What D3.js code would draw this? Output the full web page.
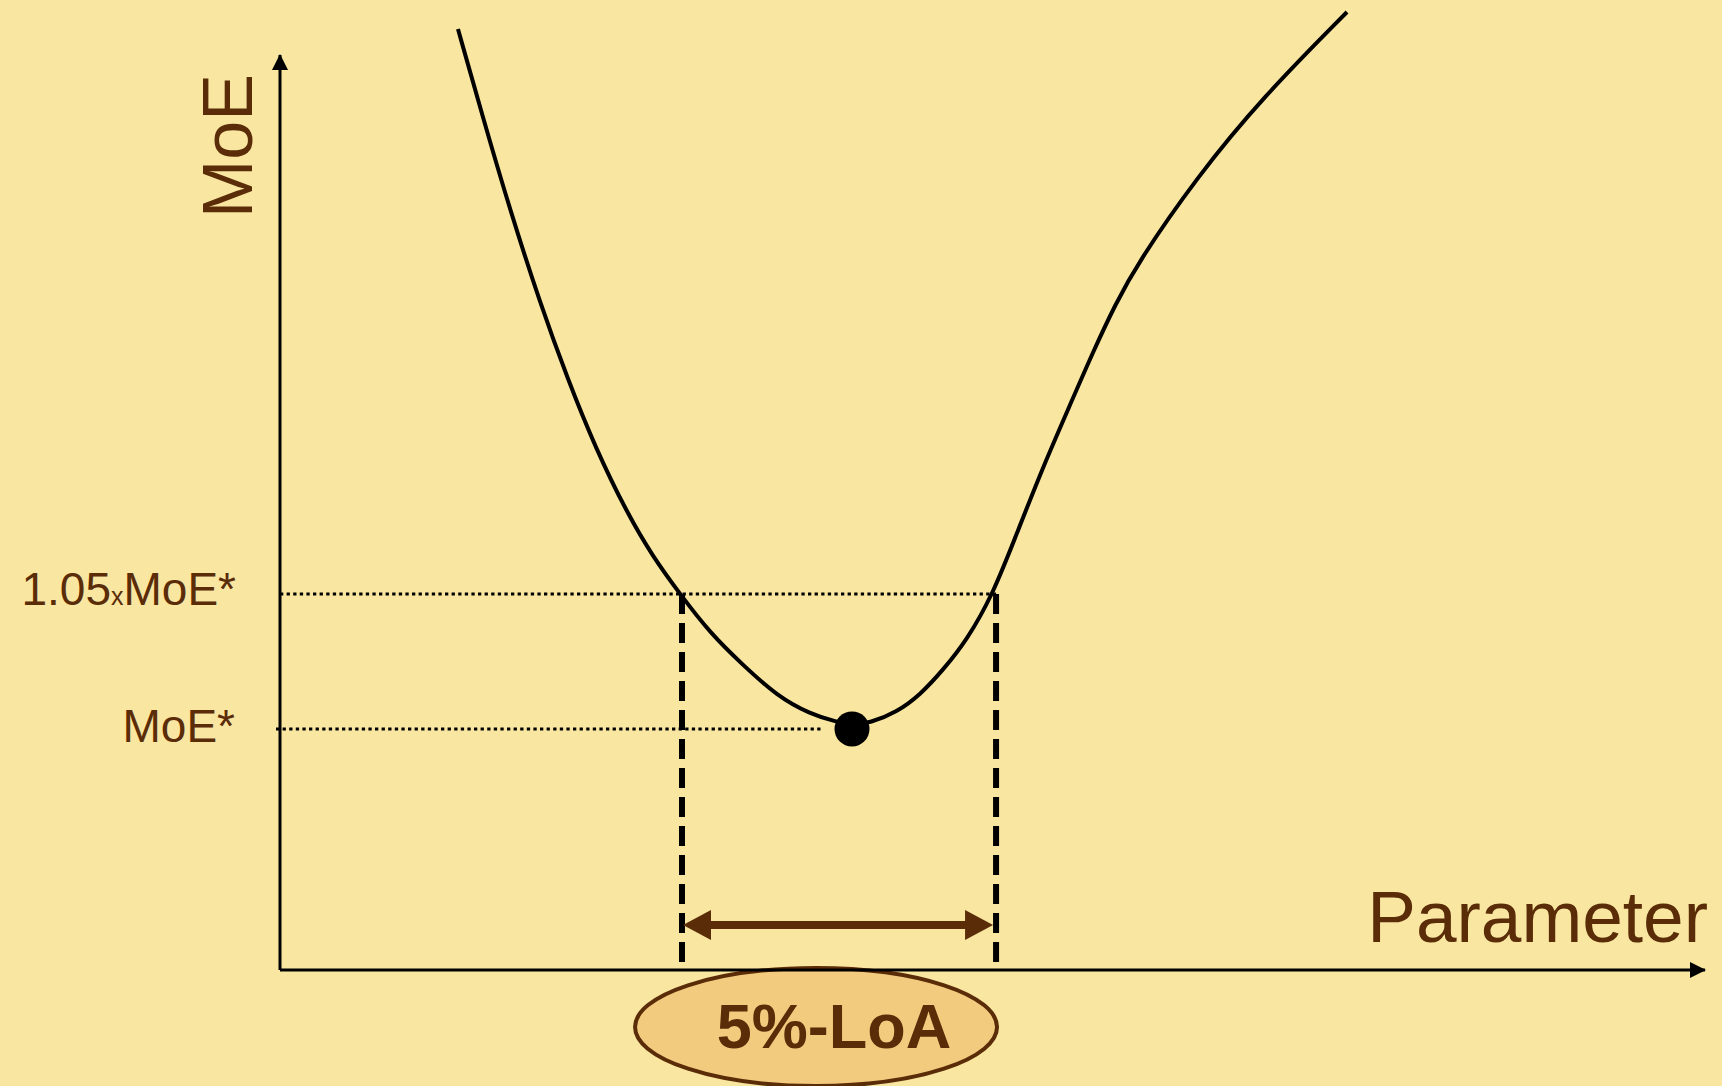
<!DOCTYPE html>
<meta charset="utf-8">
<script src="https://d3js.org/d3.v7.min.js"></script>
<style>
  body { margin: 0; background: #F9E6A0; }
  text { font-family: "Liberation Sans", Arial, sans-serif; fill: #5A2C08; }
</style>
<div id="loa"></div>
<script>
    // MoE curve (parameter units 0-10, MoE units 0-10)
    const curveX = [1.249, 1.425, 1.614, 1.825, 2.021, 2.211, 2.435, 2.618, 2.807, 3.018, 3.249, 3.488, 3.719, 3.909, 4.014, 4.140, 4.330, 4.491, 4.653, 4.821, 5.004, 5.172, 5.354, 5.544, 5.705, 5.860, 6.014, 6.435, 6.898, 7.488];
    const curveY = [10.284, 9.311, 8.306, 7.290, 6.448, 5.716, 4.995, 4.514, 4.109, 3.683, 3.333, 2.995, 2.798, 2.710, 2.678, 2.699, 2.820, 3.005, 3.279, 3.607, 4.109, 4.776, 5.497, 6.175, 6.754, 7.268, 7.716, 8.667, 9.541, 10.470];

    const optimum = {x: 4.014, y: 2.634};
    const levelY = 4.11;          // 1.05 x MoE*
    const loaBounds = [2.821, 5.025];

    const width = 1722, height = 1086;
    const margin = {left: 280, right: 17, top: 55, bottom: 116};

    const x = d3.scaleLinear().domain([0, 10]).range([margin.left, width - margin.right]);
    const y = d3.scaleLinear().domain([0, 10]).range([height - margin.bottom, margin.top]);

    const svg = d3.select("#loa").append("svg")
        .attr("width", width)
        .attr("height", height);

    svg.append("rect")
        .attr("width", width).attr("height", height)
        .style("fill", "#F9E6A0");

    const defs = svg.append("defs");
    defs.append("marker")
        .attr("id", "axhead")
        .attr("viewBox", "0 0 16 16")
        .attr("refX", 15).attr("refY", 8)
        .attr("markerWidth", 16).attr("markerHeight", 16)
        .attr("markerUnits", "userSpaceOnUse")
        .attr("orient", "auto")
        .append("path").attr("d", "M0,0L16,8L0,16Z").style("fill", "black");

    const brown = "#5A2C08";

    // label ellipse under the axis
    const loaMid = (x(loaBounds[0]) + x(loaBounds[1])) / 2;
    svg.append("ellipse")
        .attr("cx", loaMid - 23)
        .attr("cy", 1027)
        .attr("rx", 181).attr("ry", 59)
        .style("fill", "#F2CB7E")
        .style("stroke", brown)
        .style("stroke-width", 4);

    svg.append("text")
        .attr("x", loaMid - 5)
        .attr("y", 1048)
        .attr("text-anchor", "middle")
        .style("font-size", "63px")
        .style("font-weight", "bold")
        .text("5%-LoA");

    // axes
    svg.append("line")
        .attr("x1", x(0)).attr("y1", y(0))
        .attr("x2", x(10)).attr("y2", y(0))
        .style("stroke", "black").style("stroke-width", 3)
        .attr("marker-end", "url(#axhead)");
    svg.append("line")
        .attr("x1", x(0)).attr("y1", y(0))
        .attr("x2", x(0)).attr("y2", y(10))
        .style("stroke", "black").style("stroke-width", 3)
        .attr("marker-end", "url(#axhead)");

    // dotted reference levels
    svg.append("line")
        .attr("x1", x(0)).attr("y1", y(levelY))
        .attr("x2", x(loaBounds[1])).attr("y2", y(levelY))
        .style("stroke", "black").style("stroke-width", 3)
        .style("stroke-dasharray", "3.3,3.3");
    svg.append("line")
        .attr("x1", x(0) - 4).attr("y1", y(optimum.y))
        .attr("x2", x(optimum.x) - 30).attr("y2", y(optimum.y))
        .style("stroke", "black").style("stroke-width", 3)
        .style("stroke-dasharray", "3.3,3.3");

    // dashed LoA bounds
    svg.selectAll(".bound")
        .data(loaBounds)
        .join("line")
            .attr("class", "bound")
            .attr("x1", d => x(d)).attr("x2", d => x(d))
            .attr("y1", y(levelY)).attr("y2", y(0))
            .style("stroke", "black").style("stroke-width", 6)
            .style("stroke-dasharray", "20,9");

    // double arrow between bounds
    const ay = 925, head = 28, half = 15;
    const xa = x(loaBounds[0]) + 1, xb = x(loaBounds[1]) - 3;
    svg.append("line")
        .attr("x1", xa + head - 4).attr("y1", ay)
        .attr("x2", xb - head + 4).attr("y2", ay)
        .style("stroke", brown).style("stroke-width", 8);
    svg.append("path")
        .attr("d", `M${xa},${ay}L${xa + head},${ay - half}L${xa + head},${ay + half}Z`)
        .style("fill", brown);
    svg.append("path")
        .attr("d", `M${xb},${ay}L${xb - head},${ay - half}L${xb - head},${ay + half}Z`)
        .style("fill", brown);

    // the MoE curve (B-spline smooths out reading noise)
    const line = d3.line()
        .x(d => x(d[0]))
        .y(d => y(d[1]))
        .curve(d3.curveBasis);
    svg.append("path")
        .datum(d3.zip(curveX, curveY))
        .attr("d", line)
        .style("fill", "none")
        .style("stroke", "black")
        .style("stroke-width", 4);

    svg.append("circle")
        .attr("cx", x(optimum.x))
        .attr("cy", y(optimum.y))
        .attr("r", 17.5)
        .style("fill", "black");

    // labels
    svg.append("text")
        .attr("transform", "translate(252,218) rotate(-90)")
        .style("font-size", "70px")
        .text("MoE");

    svg.append("text")
        .attr("x", 1708).attr("y", 942)
        .attr("text-anchor", "end")
        .style("font-size", "73px")
        .text("Parameter");

    const lvl = svg.append("text")
        .attr("x", 236).attr("y", y(levelY) + 11)
        .attr("text-anchor", "end")
        .style("font-size", "46px");
    lvl.append("tspan").text("1.05");
    lvl.append("tspan").style("font-size", "25px").text("x");
    lvl.append("tspan").text("MoE*");

    svg.append("text")
        .attr("x", 235).attr("y", y(optimum.y) + 13)
        .attr("text-anchor", "end")
        .style("font-size", "46px")
        .text("MoE*");
</script>
